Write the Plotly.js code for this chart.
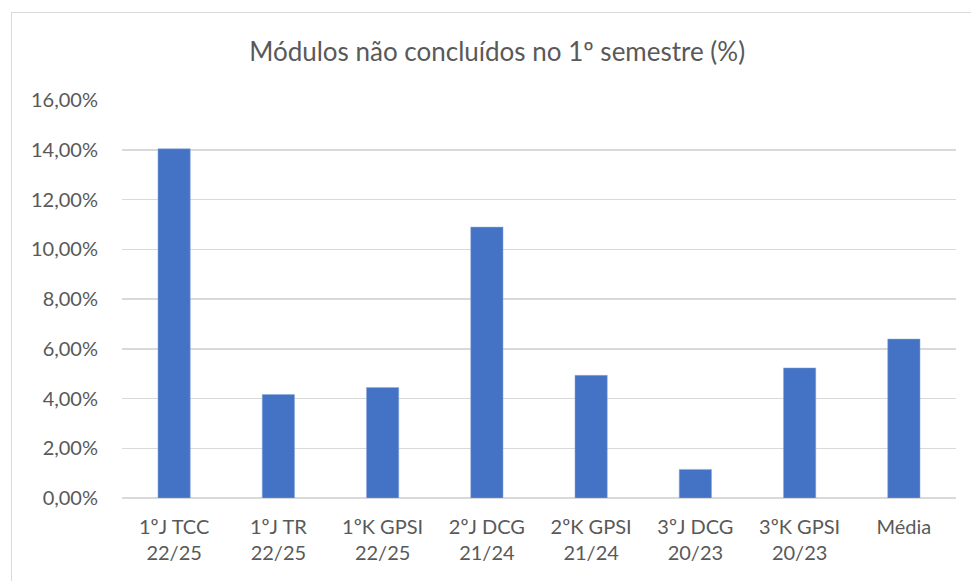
<!DOCTYPE html>
<html>
<head>
<meta charset="utf-8">
<script src="https://cdn.plot.ly/plotly-3.0.1.min.js"></script>
<style>
html,body{margin:0;padding:0;background:#fff;}
#wrap{position:relative;width:971px;height:581px;overflow:hidden;}
#frame{position:absolute;left:11px;top:12px;width:980px;height:600px;border:1px solid #d9d9d9;box-sizing:border-box;pointer-events:none;}
#chart{position:absolute;left:0;top:0;width:971px;height:581px;}
</style>
</head>
<body>
<div id="wrap">
<div id="chart"></div>
<div id="frame"></div>
</div>
<script>
const categories = ["1ºJ TCC<br>22/25","1ºJ TR<br>22/25","1ºK GPSI<br>22/25","2ºJ DCG<br>21/24","2ºK GPSI<br>21/24","3ºJ DCG<br>20/23","3ºK GPSI<br>20/23","Média"];
const values = [14.04, 4.16, 4.44, 10.89, 4.93, 1.15, 5.23, 6.39];
const titleText = "Módulos não concluídos no 1º semestre (%)";

const font = "Lato, 'Open Sans', sans-serif";
Plotly.newPlot('chart', [{
  type: 'bar',
  x: categories,
  y: values,
  marker: {color: '#4472c4', line: {color: '#8faadc', width: 0.5}},
  hoverinfo: 'x+y'
}], {
  width: 971, height: 581,
  margin: {l: 122, r: 15, t: 100, b: 83},
  paper_bgcolor: '#ffffff', plot_bgcolor: '#ffffff',
  bargap: 0.69,
  title: {text: titleText, font: {family: font, size: 26, color: '#595959'},
          x: 0.512, xref: 'container', xanchor: 'center',
          y: 1 - 52/581, yref: 'container', yanchor: 'middle'},
  separators: ',.',
  xaxis: {
    tickfont: {family: font, size: 20, color: '#595959'},
    showgrid: false, showline: false, zeroline: false,
    ticks: '', ticklabelstandoff: 15
  },
  yaxis: {
    range: [0, 16], dtick: 2, tick0: 0,
    tickformat: '.2f', ticksuffix: '%',
    tickfont: {family: font, size: 20, color: '#595959'},
    gridcolor: '#d9d9d9', gridwidth: 1.5,
    zeroline: true, zerolinecolor: '#d9d9d9', zerolinewidth: 1.5,
    showline: false, ticks: '', ticklabelstandoff: 23
  },
  showlegend: false
}, {displayModeBar: false, staticPlot: true});
</script>
</body>
</html>
